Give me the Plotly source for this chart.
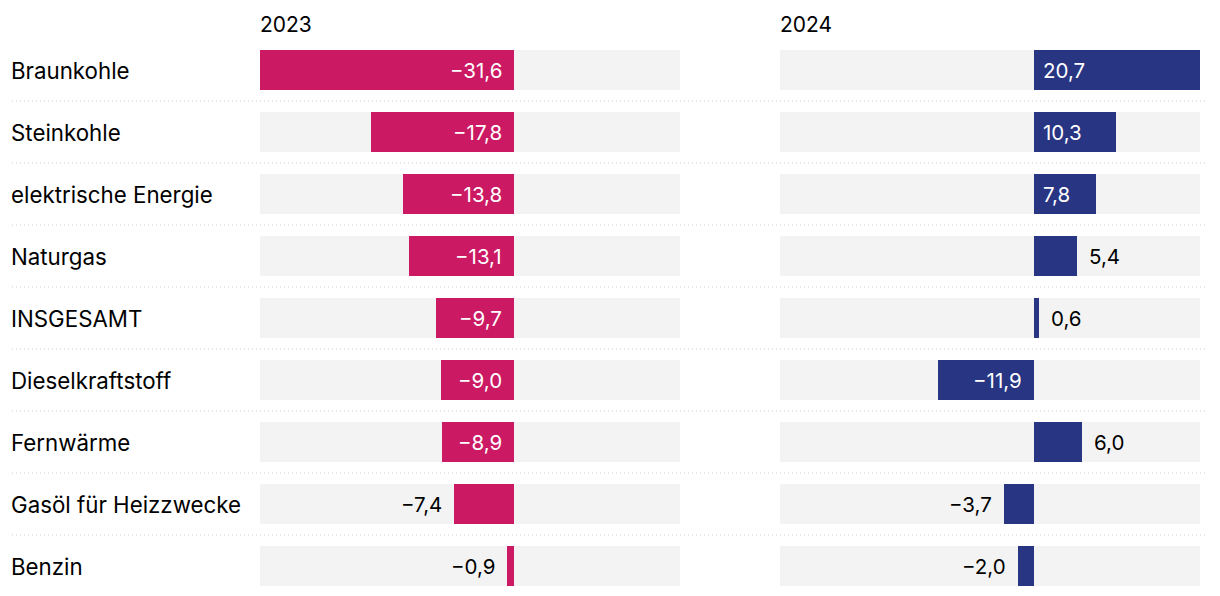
import plotly.graph_objects as go

categories = ["Braunkohle", "Steinkohle", "elektrische Energie", "Naturgas", "INSGESAMT",
              "Dieselkraftstoff", "Fernwärme", "Gasöl für Heizzwecke", "Benzin"]
values_2023 = [-31.6, -17.8, -13.8, -13.1, -9.7, -9.0, -8.9, -7.4, -0.9]
values_2024 = [20.7, 10.3, 7.8, 5.4, 0.6, -11.9, 6.0, -3.7, -2.0]
years = ["2023", "2024"]
colors = ["#cb1964", "#283583"]

W, H = 1220, 596
FONT = "Inter"
xmin = min(values_2023 + values_2024)
xmax = max(values_2023 + values_2024)
n = len(categories)
idx = list(range(n))

def fmt(v):
    s = f"{abs(v):.1f}".replace(".", ",")
    return ("\u2212" + s) if v < 0 else s

fig = go.Figure()
series = [values_2023, values_2024]
domains = [[260 / W, 680 / W], [780 / W, 1200 / W]]
annotations = []
for k, (vals, col) in enumerate(zip(series, colors)):
    xa = "x" if k == 0 else "x2"
    # grey background bars
    fig.add_trace(go.Bar(y=idx, x=[xmax - xmin] * n, base=[xmin] * n, orientation="h",
                         marker=dict(color="#f3f3f3", line=dict(width=0)), width=0.645,
                         xaxis=xa, yaxis="y", hoverinfo="skip", showlegend=False))
    fig.add_trace(go.Bar(y=idx, x=vals, orientation="h",
                         marker=dict(color=col, line=dict(width=0)), width=0.645,
                         xaxis=xa, yaxis="y", hoverinfo="skip", showlegend=False))
    for i, v in enumerate(vals):
        inside = abs(v) >= 7.5
        if inside:
            ax_x = 0
            anchor = "right" if v < 0 else "left"
            shift = -10 if v < 0 else 7
            color = "white"
        else:
            ax_x = v
            anchor = "right" if v < 0 else "left"
            shift = -10 if v < 0 else 10
            color = "#000000"
        annotations.append(dict(x=ax_x, y=i, xref=xa, yref="y", text=fmt(v), showarrow=False,
                                xanchor=anchor, yanchor="middle", xshift=shift,
                                font=dict(family=FONT, size=20.5, color=color)))
    annotations.append(dict(x=domains[k][0], y=1 - 25 / H, xref="paper", yref="paper",
                            yanchor="middle", text=years[k], showarrow=False, xanchor="left",
                            xshift=-2,
                            font=dict(family=FONT, size=21, color="#000000")))

for i, c in enumerate(categories):
    annotations.append(dict(x=12 / W, y=i, xref="paper", yref="y", text=c, showarrow=False,
                            xanchor="left", yanchor="middle", xshift=-3,
                            font=dict(family=FONT, size=22.3, color="#000000")))

shapes = []
for i in range(n - 1):
    shapes.append(dict(type="line", xref="paper", yref="y", x0=12 / W, x1=1208 / W,
                       y0=i + 0.5, y1=i + 0.5,
                       line=dict(color="#cfcfcf", width=1, dash="1px,3px")))

y_top = -70 / 62
y_bot = (n - 1) + (H - 566) / 62
axis_common = dict(range=[xmin, xmax], showgrid=False, zeroline=False, showticklabels=False,
                   ticks="", showline=False, fixedrange=True)
fig.update_layout(
    width=W, height=H,
    margin=dict(l=0, r=0, t=0, b=0),
    paper_bgcolor="white", plot_bgcolor="rgba(0,0,0,0)",
    barmode="overlay", bargap=0,
    xaxis=dict(domain=domains[0], **axis_common),
    xaxis2=dict(domain=domains[1], anchor="y", **axis_common),
    yaxis=dict(range=[y_bot, y_top], domain=[0, 1], showgrid=False, zeroline=False,
               showticklabels=False, ticks="", fixedrange=True),
    annotations=annotations, shapes=shapes,
    font=dict(family=FONT),
    showlegend=False,
)
fig.write_html("out.html", config={"displayModeBar": False})
